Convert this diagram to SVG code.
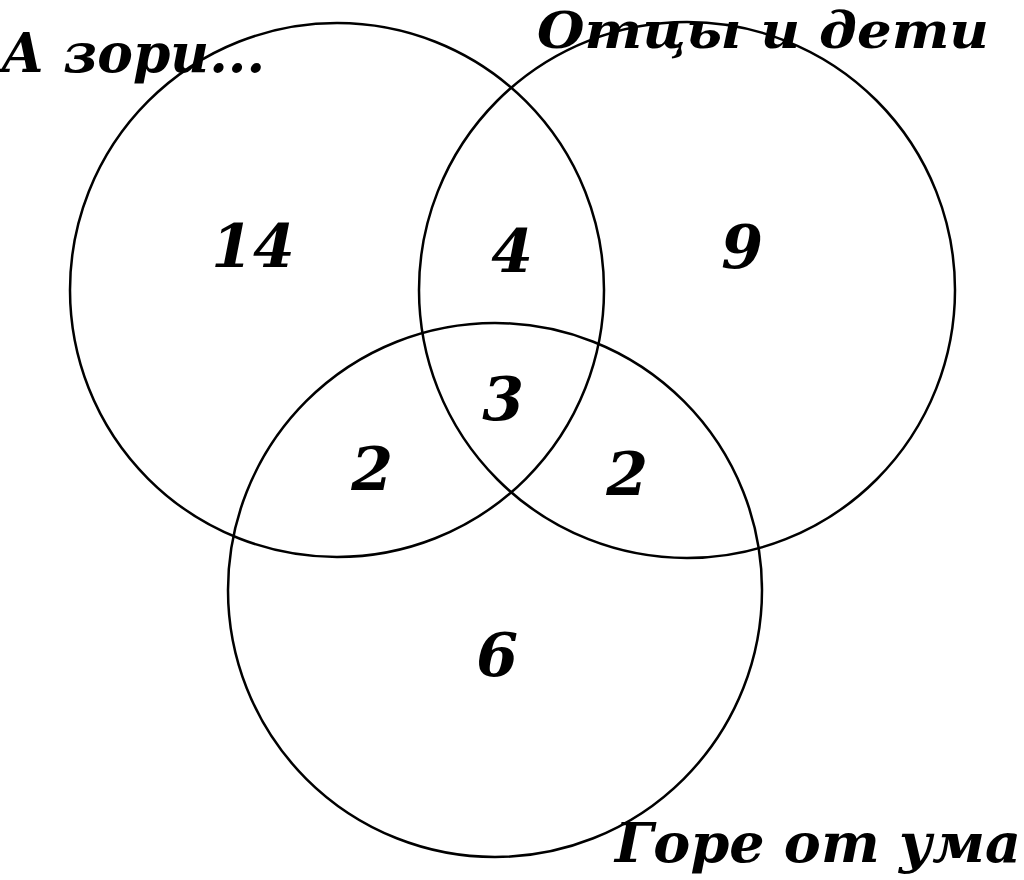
<svg xmlns="http://www.w3.org/2000/svg" width="1024" height="880" viewBox="0 0 1024 880">
<style>
.c{fill:none;stroke:#000;stroke-width:2.5}
.t{font-family:"DejaVu Serif","Liberation Serif",serif;font-weight:bold;font-style:italic;fill:#000}
.n{font-size:60px;text-anchor:middle}
.l{font-size:54px}
</style>
<rect width="1024" height="880" fill="#fff"/>
<g id="set-a"><circle class="c" cx="337" cy="290" r="267"/></g>
<g id="set-b"><circle class="c" cx="687" cy="290" r="268"/></g>
<g id="set-c"><circle class="c" cx="495" cy="590" r="267"/></g>
<g id="labels">
<text class="t l" x="1" y="72" textLength="264" lengthAdjust="spacingAndGlyphs">А зори...</text>
<text class="t" x="537" y="48" font-size="50" textLength="452" lengthAdjust="spacingAndGlyphs">Отцы и дети</text>
<text class="t l" x="615" y="862" textLength="406" lengthAdjust="spacingAndGlyphs">Горе от ума</text>
</g>
<g id="counts">
<text class="t n" x="253" y="267">14</text>
<text class="t n" x="512" y="272">4</text>
<text class="t n" x="742" y="268">9</text>
<text class="t n" x="503" y="420">3</text>
<text class="t n" x="372" y="490">2</text>
<text class="t n" x="627" y="495">2</text>
<text class="t n" x="497" y="676">6</text>
</g>
</svg>
